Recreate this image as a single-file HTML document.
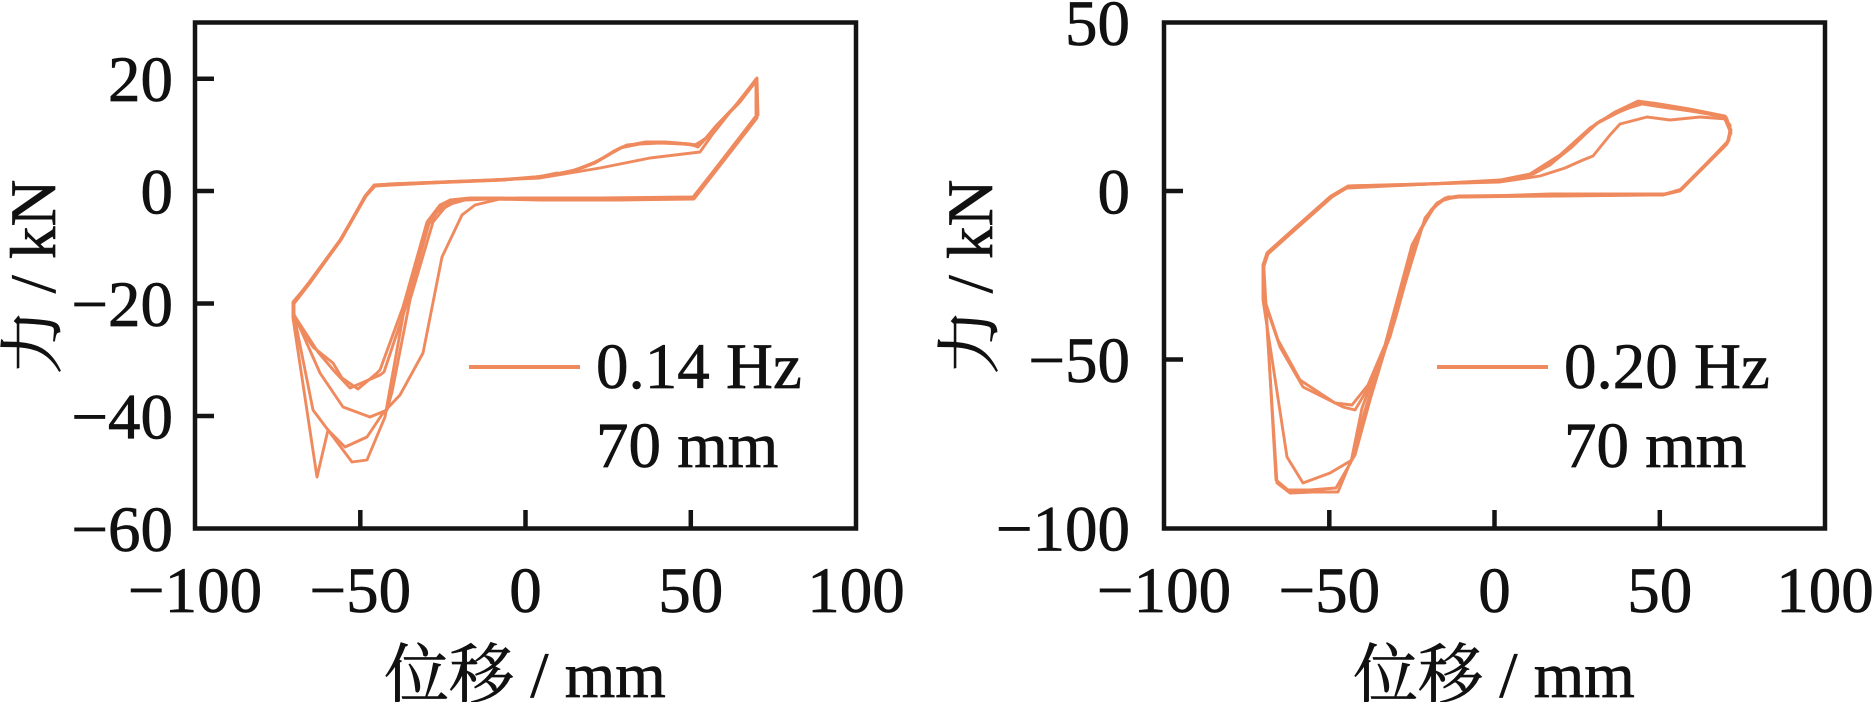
<!DOCTYPE html>
<html>
<head>
<meta charset="utf-8">
<style>
  html, body { margin: 0; padding: 0; background: #ffffff; }
  svg { display: block; }
  .t { font-family: "Liberation Serif", "Noto Serif CJK SC", serif; font-size: 65px; fill: #111; stroke: #111; stroke-width: 0.7; }
  .c { fill: none; stroke: #EF8A5E; stroke-width: 2.9; stroke-linejoin: round; stroke-linecap: round; }
  .ax { fill: none; stroke: #141414; stroke-width: 4.5; }
</style>
</head>
<body>
<svg width="1874" height="702" viewBox="0 0 1874 702" xmlns="http://www.w3.org/2000/svg">
  <rect width="1874" height="702" fill="#fff"/>

  <!-- ================= LEFT PLOT ================= -->
  <g>
    <path class="c" d="M293,303 L310,281 L340,240 L365,197 L374,186 L390,184 L440,182 L490,180 L530,178 L560,174 L585,167 L605,157 L620,148 L640,144 L660,143 L685,144 L697,146 L706,138 L715,127 L735,106 L757,78 L757,117 L693,198 L640,199 L560,199 L500,198 L470,198 L450,200 L440,205 L427,222 L403,307 L380,370 L377,373 L358,389 L342,378 L333,363 L313,347 L293,317 Z"/>
    <path class="c" d="M293,305 L310,283 L340,241 L366,196 L375,186 L392,185 L450,182 L500,180 L540,177 L570,172 L595,163 L612,153 L625,146 L645,142 L665,142 L690,144 L698,147 L708,136 L720,122 L740,102 L757,80 L757,118 L694,199 L620,200 L540,200 L490,199 L465,200 L447,205 L433,222 L410,300 L392,392 L387,410 L370,417 L343,407 L320,373 L293,312 Z"/>
    <path class="c" d="M293,304 L311,280 L341,239 L366,195 L375,185 L395,184 L470,181 L540,178 L600,168 L650,158 L700,152 L712,135 L735,106 L757,79 L758,115 L693,197 L600,198 L520,198 L500,199 L475,205 L462,215 L442,257 L423,353 L400,395 L383,413 L367,437 L345,447 L328,430 L313,410 L293,310 Z"/>
    <path class="c" d="M293,302 L310,282 L340,241 L365,196 L374,185 L392,184 L445,182 L495,180 L535,177 L565,173 L590,165 L608,155 L622,147 L642,143 L662,142 L688,144 L697,145 L707,137 L718,124 L738,104 L756,79 L756,116 L692,199 L610,199 L530,199 L495,198 L468,199 L455,202 L437,212 L425,230 L405,305 L388,400 L385,417 L367,460 L352,462 L328,430 L317,477 L293,318 Z"/>
    <path class="c" d="M294,303 L311,281 L341,240 L366,196 L375,186 L400,184 L455,182 L505,180 L545,176 L575,170 L598,161 L614,151 L627,145 L648,143 L670,143 L695,145 L705,139 L716,126 L737,105 L757,79 L757,116 L694,198 L615,199 L535,199 L492,198 L462,199 L445,203 L430,220 L407,303 L384,372 L380,375 L350,388 L335,372 L318,352 L294,315 Z"/>
    <path class="c" d="M537,177 L557,173"/>

    <rect class="ax" x="195" y="22.5" width="661" height="506"/>
    <g stroke="#141414" stroke-width="4.5">
      <line x1="195" y1="78.7" x2="214" y2="78.7"/>
      <line x1="195" y1="191" x2="214" y2="191"/>
      <line x1="195" y1="303.5" x2="214" y2="303.5"/>
      <line x1="195" y1="416" x2="214" y2="416"/>
      <line x1="360.3" y1="528.5" x2="360.3" y2="510"/>
      <line x1="525.5" y1="528.5" x2="525.5" y2="510"/>
      <line x1="690.8" y1="528.5" x2="690.8" y2="510"/>
    </g>

    <g class="t" text-anchor="end">
      <text x="173" y="101">20</text>
      <text x="173" y="213.5">0</text>
      <text x="173" y="326">−20</text>
      <text x="173" y="438.5">−40</text>
      <text x="173" y="551">−60</text>
    </g>
    <g class="t" text-anchor="middle">
      <text x="195" y="612">−100</text>
      <text x="360.3" y="612">−50</text>
      <text x="525.5" y="612">0</text>
      <text x="690.8" y="612">50</text>
      <text x="856" y="612">100</text>
    </g>

    <text class="t" x="525" y="697" text-anchor="middle">位移 / mm</text>
    <text class="t" text-anchor="middle" transform="translate(55,277) rotate(-90)">力 / kN</text>

    <line x1="469" y1="367" x2="580" y2="367" stroke="#EF8A5E" stroke-width="4"/>
    <text class="t" x="596" y="388">0.14 Hz</text>
    <text class="t" x="596" y="467">70 mm</text>
  </g>

  <!-- ================= RIGHT PLOT ================= -->
  <g>
    <path class="c" d="M1263,265 L1267,253 L1295,228 L1330,197 L1347,187 L1400,185 L1460,183 L1500,181 L1533,174 L1550,165 L1567,150 L1597,123 L1617,113 L1640,102 L1673,107 L1700,112 L1722,116 L1730,125 L1730,135 L1727,143 L1680,190 L1663,195 L1560,195 L1460,197 L1445,199 L1433,208 L1417,237 L1390,337 L1370,385 L1355,410 L1343,407 L1303,387 L1280,347 L1263,297 Z"/>
    <path class="c" d="M1263,268 L1268,252 L1296,227 L1331,196 L1348,186 L1420,184 L1500,182 L1540,176 L1565,168 L1583,160 L1593,156 L1610,135 L1620,124 L1647,117 L1670,120 L1700,117 L1727,119 L1731,133 L1726,145 L1682,189 L1665,194 L1550,194 L1455,197 L1441,201 L1430,212 L1412,245 L1385,345 L1368,385 L1352,405 L1335,403 L1300,380 L1278,340 L1263,295 Z"/>
    <path class="c" d="M1263,266 L1267,254 L1296,228 L1331,197 L1347,188 L1410,185 L1500,180 L1530,174 L1560,155 L1590,128 L1615,112 L1638,101 L1660,104 L1690,109 L1725,116 L1731,130 L1728,142 L1679,191 L1662,195 L1560,196 L1460,197 L1448,197 L1437,203 L1425,218 L1400,300 L1370,400 L1355,455 L1350,463 L1338,492 L1313,492 L1290,493 L1277,483 L1263,265 Z"/>
    <path class="c" d="M1263,267 L1268,253 L1297,227 L1332,196 L1349,186 L1430,184 L1502,181 L1535,173 L1555,160 L1575,143 L1600,121 L1622,110 L1642,104 L1668,108 L1705,113 L1726,117 L1730,128 L1729,140 L1681,190 L1664,194 L1555,195 L1458,196 L1445,198 L1435,206 L1420,230 L1395,320 L1365,410 L1352,460 L1330,473 L1303,483 L1287,457 L1263,300 Z"/>
    <path class="c" d="M1264,266 L1268,254 L1297,228 L1332,197 L1348,187 L1405,185 L1498,181 L1528,175 L1552,163 L1572,147 L1596,124 L1619,112 L1641,103 L1672,108 L1702,113 L1724,117 L1730,131 L1727,144 L1680,191 L1663,195 L1557,195 L1452,197 L1442,200 L1431,210 L1415,240 L1388,340 L1362,408 L1351,462 L1336,488 L1310,490 L1288,490 L1276,480 L1264,270 Z"/>

    <rect class="ax" x="1164" y="22.5" width="661" height="506"/>
    <g stroke="#141414" stroke-width="4.5">
      <line x1="1164" y1="191" x2="1183" y2="191"/>
      <line x1="1164" y1="359.5" x2="1183" y2="359.5"/>
      <line x1="1329.3" y1="528.5" x2="1329.3" y2="510"/>
      <line x1="1494.5" y1="528.5" x2="1494.5" y2="510"/>
      <line x1="1659.8" y1="528.5" x2="1659.8" y2="510"/>
    </g>

    <g class="t" text-anchor="end">
      <text x="1130" y="45">50</text>
      <text x="1130" y="213.5">0</text>
      <text x="1130" y="382">−50</text>
      <text x="1130" y="550.5">−100</text>
    </g>
    <g class="t" text-anchor="middle">
      <text x="1164" y="612">−100</text>
      <text x="1329.3" y="612">−50</text>
      <text x="1494.5" y="612">0</text>
      <text x="1659.8" y="612">50</text>
      <text x="1825" y="612">100</text>
    </g>

    <text class="t" x="1494" y="697" text-anchor="middle">位移 / mm</text>
    <text class="t" text-anchor="middle" transform="translate(992,277) rotate(-90)">力 / kN</text>

    <line x1="1437" y1="367" x2="1548" y2="367" stroke="#EF8A5E" stroke-width="4"/>
    <text class="t" x="1564" y="388">0.20 Hz</text>
    <text class="t" x="1564" y="467">70 mm</text>
  </g>
</svg>
</body>
</html>
